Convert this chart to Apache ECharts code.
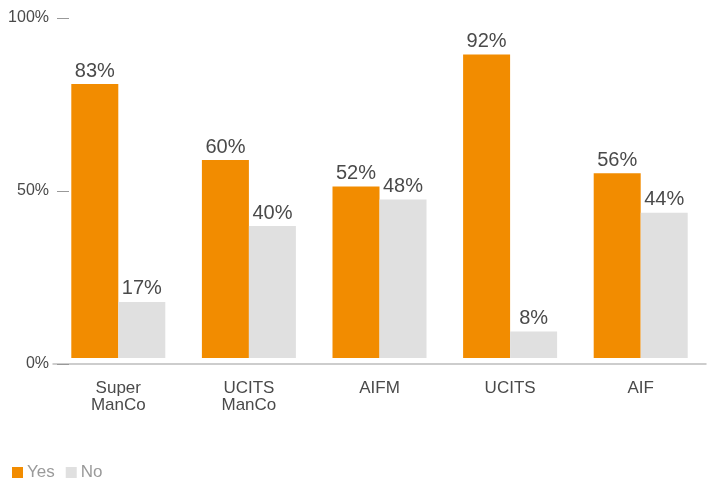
<!DOCTYPE html>
<html>
<head>
<meta charset="utf-8">
<script src="https://cdn.jsdelivr.net/npm/echarts@6/dist/echarts.min.js"></script>
<style>
  html, body { margin: 0; padding: 0; background: #fff; }
  #chart { width: 714px; height: 482px; }
</style>
</head>
<body>
<div id="chart"></div>
<script>
var categories = ['Super\nManCo', 'UCITS\nManCo', 'AIFM', 'UCITS', 'AIF'];
var yesValues = [83, 60, 52, 92, 56];
var noValues = [17, 40, 48, 8, 44];
var seriesNames = ['Yes', 'No'];

(function(){
    var dom = document.getElementById('chart');
    var myChart = echarts.init(dom, null, {renderer: 'canvas'});
    var font = 'Liberation Sans, Arial, Helvetica, sans-serif';

    var barLabel = {
        show: true,
        position: 'top',
        distance: 3,
        fontSize: 20,
        fontFamily: font,
        color: '#4a4a4a',
        formatter: '{c}%'
    };

    var option = {
        backgroundColor: '#fff',
        animation: false,
        legend: {
            data: seriesNames,
            left: 7,
            top: 459,
            icon: 'rect',
            itemWidth: 11,
            itemHeight: 11,
            itemGap: 11,
            textStyle: {fontSize: 17, fontFamily: font, color: '#9a9a9a', padding: [0, 0, 0, -1]}
        },
        grid: {left: 53, right: 8, top: 18, height: 346},
        xAxis: {
            type: 'category',
            data: categories,
            axisLine: {onZero: false, lineStyle: {color: '#bdbdbd', width: 1.5}},
            axisTick: {show: false},
            axisLabel: {fontSize: 17, lineHeight: 17, fontFamily: font, color: '#4a4a4a', margin: 16}
        },
        yAxis: [
            // bars are drawn on this one (0 sits a bit above the line)
            {type: 'value', min: -1.818, max: 103.03, show: false},
            // just the tick labels
            {
                type: 'value', min: 0, max: 100, interval: 50, position: 'left', offset: -4,
                axisLine: {show: false},
                axisTick: {show: true, inside: true, length: 12, lineStyle: {color: '#999'}},
                splitLine: {show: false},
                axisLabel: {fontSize: 16, fontFamily: font, color: '#4a4a4a', margin: 8,
                    padding: [4, 0, 0, 0], formatter: '{value}%'}
            }
        ],
        series: [
            {name: seriesNames[0], type: 'bar', data: yesValues, barWidth: 47, barGap: '0%',
             itemStyle: {color: '#f28c00'}, label: barLabel},
            {name: seriesNames[1], type: 'bar', data: noValues, barWidth: 47, barGap: '0%',
             itemStyle: {color: '#e0e0e0'}, label: barLabel}
        ]
    };
    myChart.setOption(option, true);
})();
</script>
</body>
</html>
